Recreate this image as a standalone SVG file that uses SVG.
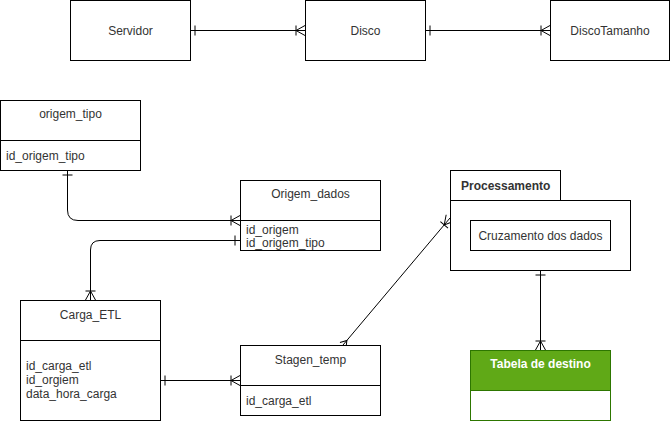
<svg xmlns="http://www.w3.org/2000/svg" width="671" height="421" viewBox="0 0 671 421">
<style>
.box{fill:#fff;stroke:#000;stroke-width:1}
.t{font-family:"Liberation Sans",Arial,sans-serif;font-size:12px;fill:#333;dominant-baseline:central}
.c{text-anchor:middle}
.b{font-weight:bold}
.w{fill:#fff}
.e{fill:none;stroke:#000;stroke-width:1}
</style>
<defs>
<marker id="one" viewBox="-14 -7 16 14" refX="0" refY="0" markerWidth="16" markerHeight="14" markerUnits="userSpaceOnUse" orient="auto-start-reverse">
<path d="M-5,-5 L-5,5" fill="none" stroke="#000" stroke-width="1"/>
</marker>
<marker id="otm" viewBox="-14 -7 16 14" refX="0" refY="0" markerWidth="16" markerHeight="14" markerUnits="userSpaceOnUse" orient="auto-start-reverse">
<path d="M0,-5 L-9,0 L0,5 M-9,-5 L-9,5" fill="none" stroke="#000" stroke-width="1"/>
</marker>
<marker id="many" viewBox="-14 -7 16 14" refX="0" refY="0" markerWidth="16" markerHeight="14" markerUnits="userSpaceOnUse" orient="auto-start-reverse">
<path d="M0,-4 L-6,0 L0,4" fill="none" stroke="#000" stroke-width="1"/>
</marker>
</defs>
<g id="connectors">
<path class="e" d="M190,30.5 L305,30.5" marker-start="url(#one)" marker-end="url(#otm)"/>
<path class="e" d="M425,30.5 L550,30.5" marker-start="url(#one)" marker-end="url(#otm)"/>
<path class="e" d="M67.5,170 L67.5,210 Q67.5,220.5 78,220.5 L240,220.5" marker-start="url(#one)" marker-end="url(#otm)"/>
<path class="e" d="M240,240.5 L100,240.5 Q90.5,240.5 90.5,250 L90.5,300" marker-start="url(#one)" marker-end="url(#otm)"/>
<path class="e" d="M160,380.5 L240,380.5" marker-start="url(#one)" marker-end="url(#otm)"/>
<path class="e" d="M540.5,270 L540.5,350" marker-start="url(#one)" marker-end="url(#otm)"/>
<path class="e" d="M343,345 L450,218" marker-start="url(#many)" marker-end="url(#otm)"/>
</g>
<g id="servidor">
<rect class="box" x="70.5" y="0.5" width="120" height="60"/>
<text class="t c" x="130.5" y="30.5">Servidor</text>
</g>
<g id="disco">
<rect class="box" x="305.5" y="0.5" width="120" height="60"/>
<text class="t c" x="365.5" y="30.5">Disco</text>
</g>
<g id="discotamanho">
<rect class="box" x="550.5" y="0.5" width="119" height="60"/>
<text class="t c" x="610" y="30.5">DiscoTamanho</text>
</g>
<g id="origem_tipo">
<rect class="box" x="0.5" y="100.5" width="140" height="70"/>
<line class="e" x1="0.5" y1="140.5" x2="140.5" y2="140.5"/>
<text class="t c" x="70.5" y="114">origem_tipo</text>
<text class="t" x="6" y="156">id_origem_tipo</text>
</g>
<g id="origem_dados">
<rect class="box" x="240.5" y="180.5" width="140" height="70"/>
<line class="e" x1="240.5" y1="220.5" x2="380.5" y2="220.5"/>
<text class="t c" x="310.5" y="194">Origem_dados</text>
<text class="t" x="246" y="230">id_origem</text>
<text class="t" x="246" y="243">id_origem_tipo</text>
</g>
<g id="carga_etl">
<rect class="box" x="20.5" y="300.5" width="140" height="120"/>
<line class="e" x1="20.5" y1="340.5" x2="160.5" y2="340.5"/>
<text class="t c" x="90.5" y="315">Carga_ETL</text>
<text class="t" x="26" y="366">id_carga_etl</text>
<text class="t" x="26" y="380">id_orgiem</text>
<text class="t" x="26" y="394">data_hora_carga</text>
</g>
<g id="stagen_temp">
<rect class="box" x="240.5" y="345.5" width="140" height="70"/>
<line class="e" x1="240.5" y1="385.5" x2="380.5" y2="385.5"/>
<text class="t c" x="310.5" y="360">Stagen_temp</text>
<text class="t" x="246" y="401">id_carga_etl</text>
</g>
<g id="processamento">
<rect class="box" x="450.5" y="170.5" width="110" height="30"/>
<rect class="box" x="450.5" y="200.5" width="180" height="70"/>
<text class="t b" x="461" y="185.5">Processamento</text>
</g>
<g id="cruzamento">
<rect class="box" x="470.5" y="220.5" width="140" height="30"/>
<text class="t c" x="540.5" y="235.5">Cruzamento dos dados</text>
</g>
<g id="tabela_destino">
<rect x="470.5" y="350.5" width="140" height="70" fill="#fff" stroke="#2D7600"/>
<rect x="470.5" y="350.5" width="140" height="40" fill="#60a917" stroke="#2D7600"/>
<text class="t c b w" x="540.5" y="364">Tabela de destino</text>
</g>
</svg>
